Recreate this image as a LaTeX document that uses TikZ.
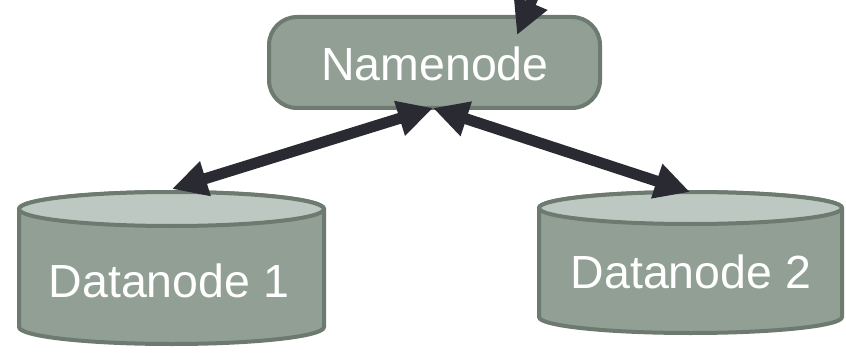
\documentclass[tikz,border=0pt]{standalone}
\usepackage{fontspec}
\setmainfont{Liberation Sans}
\usetikzlibrary{arrows.meta}
\definecolor{boxfill}{HTML}{919F94}
\definecolor{boxedge}{HTML}{6D7A6F}
\definecolor{topfill}{HTML}{BEC8C2}
\definecolor{arrowc}{HTML}{2A2A33}
\begin{document}
\begin{tikzpicture}[x=1pt,y=1pt,
  shapeedge/.style={draw=boxedge, line width=4pt},
  namebox/.style={shapeedge, fill=boxfill, rounded corners=28pt, minimum width=331pt, minimum height=91pt, inner sep=0pt, outer sep=0pt},
  label/.style={text=white, font=\fontsize{46.5}{50}\selectfont, inner sep=0pt, anchor=base},
  arr/.style={draw=arrowc, line width=11pt},
  tipa/.style={-{Triangle[length=35pt,width=34pt]}},
  tipb/.style={{Triangle[length=35pt,width=34pt]}-{Triangle[length=35pt,width=34pt]}}]
\clip (0,0) rectangle (846,354);
\useasboundingbox (0,0) rectangle (846,354);
% Namenode
\node[namebox] (nn) at (434.5,291.5) {};
\node[label] (nntext) at (435,273) {Namenode};
% Datanode 1
\path[shapeedge, fill=boxfill] (19,145) -- (19,27) arc[start angle=180, end angle=360, x radius=152.5pt, y radius=17pt] -- (324,145) arc[start angle=0, end angle=180, x radius=152.5pt, y radius=17pt] -- cycle;
\draw[shapeedge, fill=topfill] (171.5,145) ellipse [x radius=152.5pt, y radius=17pt];
\node[label] (d1) at (169,57) {Datanode 1};
% Datanode 2
\path[shapeedge, fill=boxfill] (539,146) -- (539,37) arc[start angle=180, end angle=360, x radius=151.5pt, y radius=16pt] -- (842,146) arc[start angle=0, end angle=180, x radius=151.5pt, y radius=16pt] -- cycle;
\draw[shapeedge, fill=topfill] (690.5,146) ellipse [x radius=151.5pt, y radius=16pt];
\node[label] (d2) at (691,66) {Datanode 2};
% connection points
\coordinate (nnb) at (433,246);
\coordinate (nnt) at (517,319);
\coordinate (src) at (548,392);
\coordinate (d1t) at (172,165);
\coordinate (d2t) at (690,162);
% arrows
\draw[arr, tipa] (src) -- (nnt);
\draw[arr, tipb] (d1t) -- (nnb);
\draw[arr, tipb] (nnb) -- (d2t);
\end{tikzpicture}
\end{document}
